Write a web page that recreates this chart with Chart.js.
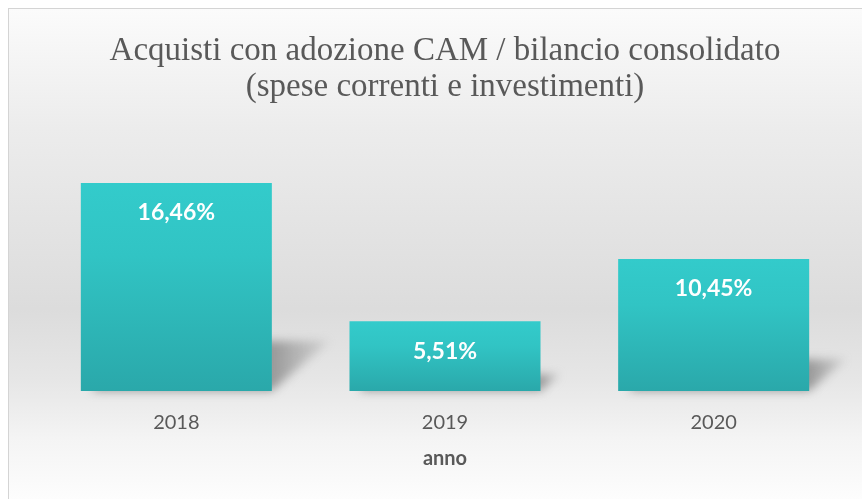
<!DOCTYPE html>
<html><head><meta charset="utf-8">
<script src="https://cdn.jsdelivr.net/npm/chart.js@4"></script>
<style>
html,body{margin:0;padding:0;width:862px;height:499px;overflow:hidden;background:#fff;}
#frame{position:absolute;left:8px;top:8px;width:900px;height:600px;border:1px solid #d4d4d4;box-sizing:border-box;
background:linear-gradient(to bottom,#fbfbfb 0px,#ececec 120px,#dcdcdc 300px,#e6e6e6 370px,#f4f4f4 430px,#fdfdfd 491px);}
#wrap{position:absolute;left:0;top:0;width:862px;height:499px;}
</style></head>
<body>
<div id="frame"></div>
<div id="wrap"><canvas id="c" width="862" height="499"></canvas></div>
<script>
const categories = ['2018', '2019', '2020'];
const values = [16.46, 5.51, 10.45];
const titleLines = ['Acquisti con adozione CAM / bilancio consolidato', '(spese correnti e investimenti)'];
const axisTitle = 'anno';

const fmt = v => v.toFixed(2).replace('.', ',') + '%';

const shadowPlugin = {
  id: 'barShadow',
  beforeDatasetsDraw(chart) {
    const ctx = chart.ctx;
    const meta = chart.getDatasetMeta(0);
    ctx.save();
    ctx.filter = 'blur(5px)';
    meta.data.forEach(bar => {
      const base = bar.base;
      const h = base - bar.y;
      const hs = h * 0.24;
      const dx = hs * 1.15;
      const xl = bar.x - bar.width / 2, xr = bar.x + bar.width / 2;
      const g = ctx.createLinearGradient(xr, 0, xr + dx + 10, 0);
      g.addColorStop(0, 'rgba(120,120,120,0.7)');
      g.addColorStop(1, 'rgba(150,150,150,0.12)');
      ctx.fillStyle = g;
      ctx.beginPath();
      ctx.moveTo(xl + 10, base);
      ctx.lineTo(xl + dx, base - hs);
      ctx.lineTo(xr + dx, base - hs);
      ctx.lineTo(xr, base);
      ctx.closePath();
      ctx.fill();
    });
    ctx.restore();
  }
};

const labelPlugin = {
  id: 'barLabels',
  afterDatasetsDraw(chart) {
    const ctx = chart.ctx;
    const meta = chart.getDatasetMeta(0);
    ctx.save();
    ctx.fillStyle = '#ffffff';
    ctx.font = 'bold 23px Lato';
    ctx.textAlign = 'center';
    ctx.textBaseline = 'middle';
    meta.data.forEach((bar, i) => {
      ctx.fillText(fmt(values[i]), bar.x, bar.y + 30);
    });
    ctx.restore();
  }
};

new Chart(document.getElementById('c'), {
  type: 'bar',
  data: {
    labels: categories,
    datasets: [{
      data: values,
      backgroundColor: (c) => {
        const chart = c.chart;
        const ca = chart.chartArea;
        if (!ca || c.type !== 'data') return '#2fbfbf';
        const y = chart.scales.y;
        const top = y.getPixelForValue(c.raw);
        const bot = y.getPixelForValue(0);
        const g = chart.ctx.createLinearGradient(0, top, 0, bot);
        g.addColorStop(0, '#33cbcb');
        g.addColorStop(0.35, '#31c4c4');
        g.addColorStop(1, '#2aa8aa');
        return g;
      },
      borderWidth: 0,
      categoryPercentage: 1.0,
      barPercentage: 0.711
    }]
  },
  options: {
    responsive: false,
    animation: false,
    layout: { padding: { left: 42, right: 14, top: 0, bottom: 24 } },
    plugins: {
      legend: { display: false },
      tooltip: { enabled: false },
      title: {
        display: true,
        text: titleLines,
        color: '#595959',
        font: { family: 'Liberation Serif', size: 33, weight: 'normal', lineHeight: 1.09 },
        padding: { top: 33, bottom: 27 }
      }
    },
    scales: {
      x: {
        grid: { display: false, drawBorder: false },
        border: { display: false },
        ticks: { color: '#595959', font: { family: 'Lato', size: 20 }, padding: 12 },
        title: { display: true, text: axisTitle, color: '#595959', font: { family: 'Lato', size: 20, weight: 'bold' }, padding: { top: 0 } }
      },
      y: {
        display: false,
        min: 0,
        max: 20.5
      }
    }
  },
  plugins: [shadowPlugin, labelPlugin]
});
</script>
</body></html>
